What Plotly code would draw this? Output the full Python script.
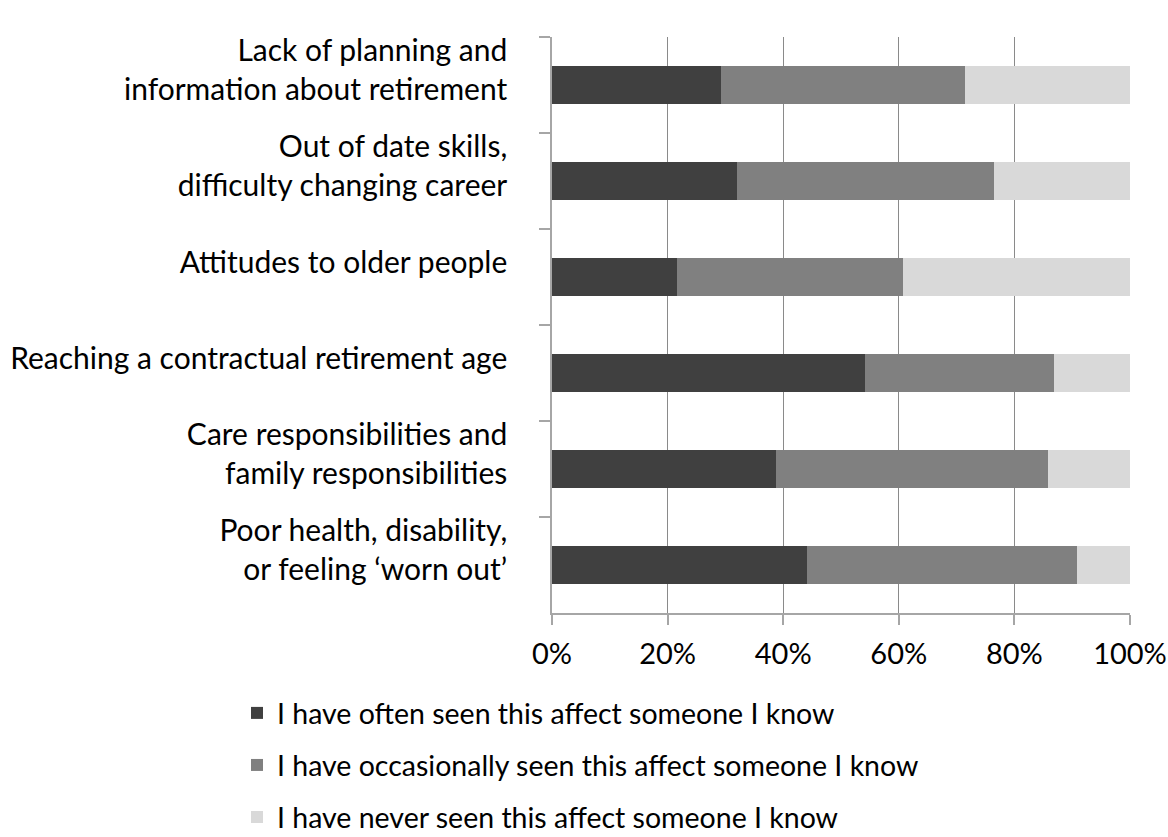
import plotly.graph_objects as go

# Reasons, listed top to bottom as they appear on the chart
categories = [
    "Lack of planning and<br>information about retirement",
    "Out of date skills,<br>difficulty changing career",
    "Attitudes to older people",
    "Reaching a contractual retirement age",
    "Care responsibilities and<br>family responsibilities",
    "Poor health, disability,<br>or feeling \u2018worn out\u2019",
]

often = [29.3, 32.0, 21.6, 54.1, 38.8, 44.2]
occasionally = [42.1, 44.5, 39.1, 32.7, 47.0, 46.6]
never = [28.6, 23.5, 39.3, 13.2, 14.2, 9.2]

series_names = [
    "I have often seen this affect someone I know",
    "I have occasionally seen this affect someone I know",
    "I have never seen this affect someone I know",
]
series_colors = ["#404040", "#808080", "#d9d9d9"]

x_tick_values = [0, 20, 40, 60, 80, 100]
x_tick_labels = ["0%", "20%", "40%", "60%", "80%", "100%"]

FONT = "Lato, Calibri, Carlito, sans-serif"

fig = go.Figure()
for name, vals, color in zip(series_names, [often, occasionally, never], series_colors):
    fig.add_trace(go.Bar(
        y=categories,
        x=vals,
        name=name,
        orientation="h",
        marker=dict(color=color, line=dict(width=0)),
        legendgroup=name,
    ))

fig.update_layout(
    width=1168,
    height=837,
    autosize=False,
    barmode="stack",
    bargap=0.604,
    plot_bgcolor="white",
    paper_bgcolor="white",
    font=dict(family=FONT, size=29, color="#000000"),
    margin=dict(l=552, r=38, t=37, b=224, pad=0, autoexpand=False),
    showlegend=True,
    legend=dict(
        x=-0.545,
        xanchor="left",
        y=-0.130,
        yanchor="top",
        traceorder="grouped",
        tracegroupgap=12,
        font=dict(family=FONT, size=28.5, color="#000000"),
        itemwidth=30,
        bgcolor="rgba(0,0,0,0)",
    ),
    xaxis=dict(
        range=[0, 100],
        tickmode="array",
        tickvals=x_tick_values,
        ticktext=x_tick_labels,
        showgrid=True,
        gridcolor="#8a8a8a",
        gridwidth=1,
        zeroline=False,
        showline=True,
        linecolor="#a6a6a6",
        linewidth=1.5,
        ticks="outside",
        ticklen=10,
        tickcolor="#a6a6a6",
        tickwidth=1.5,
        ticklabelstandoff=4,
        tickfont=dict(family=FONT, size=29, color="#000000"),
        fixedrange=True,
    ),
    yaxis=dict(
        categoryorder="array",
        categoryarray=categories,
        autorange="reversed",
        showline=True,
        linecolor="#a6a6a6",
        linewidth=1.5,
        ticks="outside",
        tickson="boundaries",
        ticklen=11,
        tickcolor="#a6a6a6",
        tickwidth=1.5,
        showgrid=False,
        ticklabelstandoff=37,
        ticklabelshift=15,
        tickfont=dict(family=FONT, size=30, color="#000000"),
        fixedrange=True,
    ),
)

fig.write_html("out.html")
